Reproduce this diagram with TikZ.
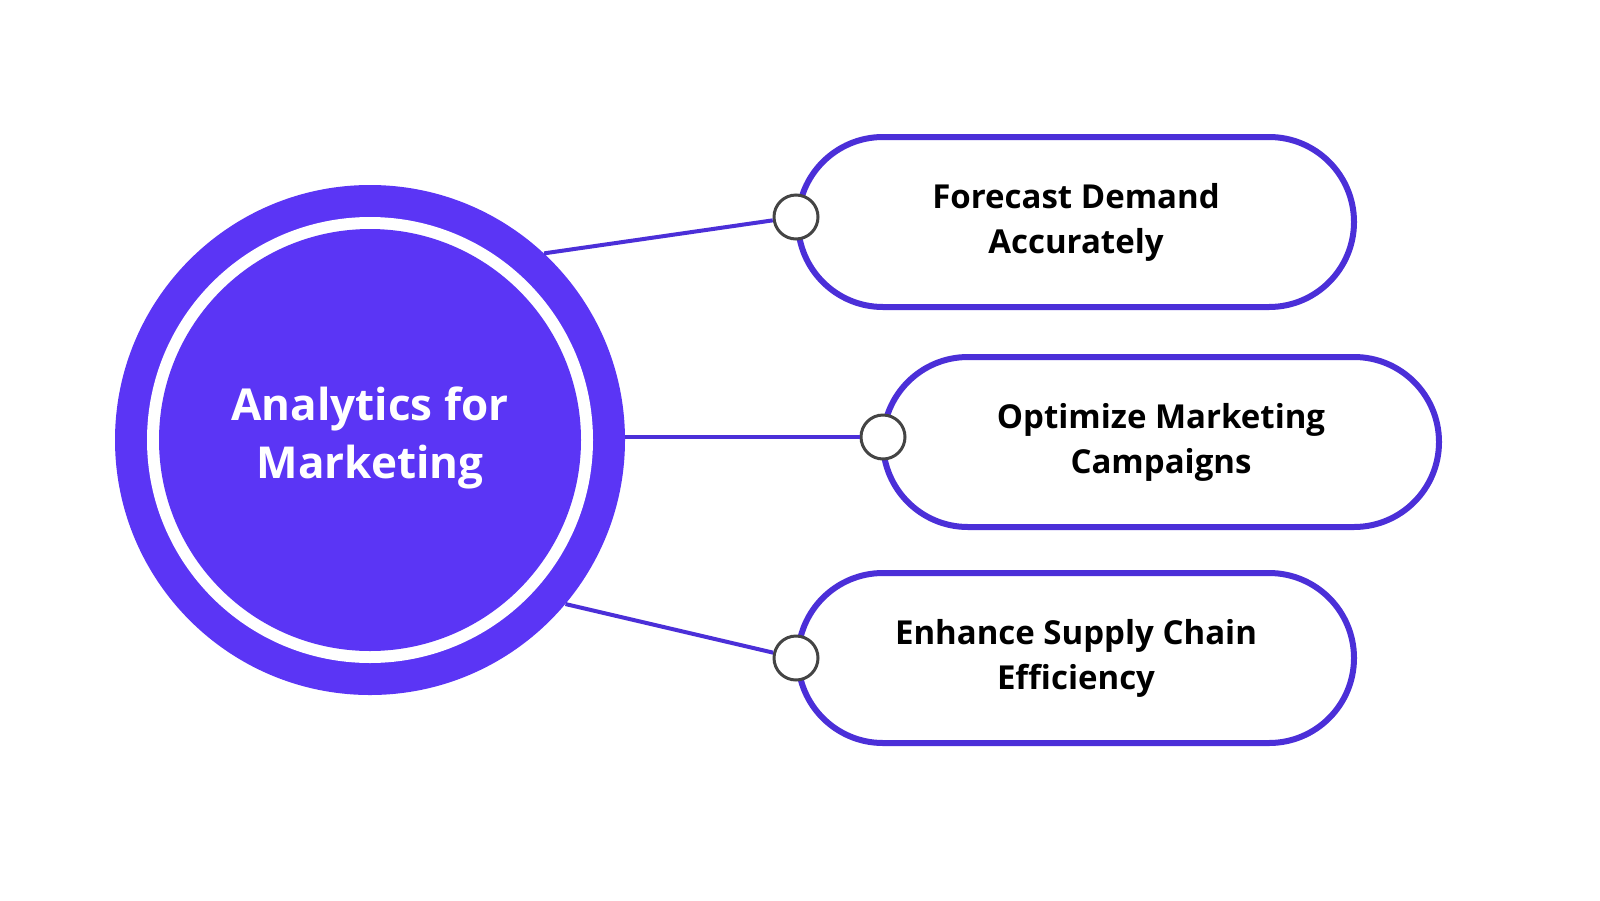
\documentclass[tikz,border=0pt]{standalone}
\usepackage{fontspec}
\setmainfont{Open Sans}
\definecolor{brand}{HTML}{5B35F5}
\definecolor{rim}{HTML}{4B2FD8}
\definecolor{dotline}{HTML}{444444}
\tikzset{
  pill/.style={draw=rim, line width=6pt, fill=white, rounded corners=85pt, minimum width=556pt, minimum height=170pt, align=center, font=\bfseries\fontsize{33}{45}\selectfont, text=black},
  dot/.style={circle, draw=dotline, line width=3pt, fill=white, minimum size=44pt, inner sep=0pt},
  link/.style={draw=rim, line width=4pt}
}
\begin{document}
\begin{tikzpicture}[x=1pt, y=-1pt]
\fill[white] (0,0) rectangle (1600,900);
\fill[brand] (370,440) circle (255);
\fill[white] (370,440) circle (223);
\fill[brand] (370,440) circle (211);
\node[circle, minimum size=510pt, inner sep=0pt] (hub) at (370,440) {};
\node[text=white, align=center, font=\bfseries\fontsize{44}{58}\selectfont] (hubtext) at (370,438) {Analytics for\\Marketing};

\node[pill] (p1) at (1076,222) {Forecast Demand\\Accurately};
\node[pill] (p2) at (1161,442) {Optimize Marketing\\Campaigns};
\node[pill] (p3) at (1076,658) {Enhance Supply Chain\\Efficiency};

\node[dot] (d1) at (796,217) {};
\node[dot] (d2) at (883,437) {};
\node[dot] (d3) at (796,658) {};

\draw[link] (hub.47) -- (d1);
\draw[link] (hub.east |- d2) -- (d2);
\draw[link] (hub.-40) -- (d3);
\pgfresetboundingbox
\useasboundingbox (0,0) rectangle (1600,900);
\end{tikzpicture}
\end{document}
